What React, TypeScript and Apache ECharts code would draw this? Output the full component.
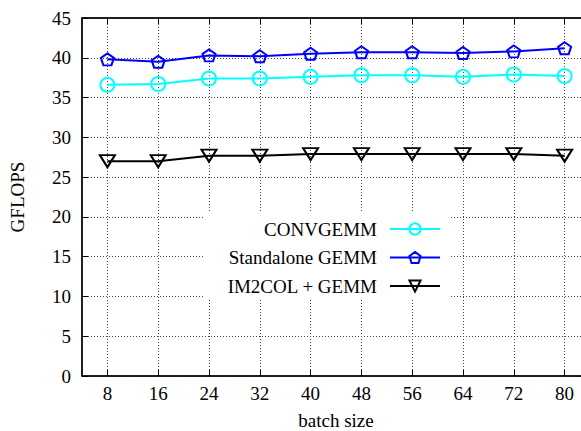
import React, { useEffect, useRef } from "react";
import * as echarts from "echarts";

const batchSizes = [8, 16, 24, 32, 40, 48, 56, 64, 72, 80];
const convgemm = [36.6, 36.7, 37.4, 37.4, 37.6, 37.8, 37.8, 37.6, 37.9, 37.7];
const standaloneGemm = [39.8, 39.5, 40.3, 40.2, 40.5, 40.7, 40.7, 40.6, 40.8, 41.2];
const im2colGemm = [27.0, 27.0, 27.7, 27.7, 27.9, 27.9, 27.9, 27.9, 27.9, 27.7];
const yTicks = { min: 0, max: 45, interval: 5 };

const FONT = "Liberation Serif";
const PENTAGON = "path://M0,-1 L0.951,-0.309 L0.588,0.809 L-0.588,0.809 L-0.951,-0.309 Z";
const TRI_DOWN = "path://M0,0 L10,0 L5,8.66 Z";

export default function App() {
  const ref = useRef<HTMLDivElement>(null);
  useEffect(() => {
    if (!ref.current) return;
    const chart = echarts.init(ref.current, null, { renderer: "svg" });
    const pairs = (vals: number[]) => batchSizes.map((b, i) => [b, vals[i]]);
    const gridLine = { show: true, lineStyle: { color: "#444", type: [1, 2] as any, width: 1 } };
    const mk = (name: string, vals: number[], color: string, symbol: string, size: any) => ({
      name,
      type: "line",
      data: pairs(vals),
      symbol,
      symbolSize: size,
      showSymbol: true,
      lineStyle: { color, width: 2 },
      itemStyle: { color: "transparent", borderColor: color, borderWidth: 2 },
      emphasis: { disabled: true },
      z: 3,
    });
    chart.setOption({
      animation: false,
      grid: {
        left: 82,
        top: 18,
        right: -9,
        bottom: 55,
        outerBoundsMode: "none",
        containLabel: false,
        show: true,
        borderColor: "#000",
        borderWidth: 1,
      },
      xAxis: [
        {
          type: "value",
          min: 4,
          max: 84,
          name: "batch size",
          nameLocation: "middle",
          nameGap: 36,
          nameTextStyle: { fontFamily: FONT, fontSize: 19, color: "#000", lineHeight: 16 },
          axisLine: { show: true, onZero: false, lineStyle: { color: "#000", width: 1.5 } },
          axisTick: { show: true, inside: true, length: 6, customValues: batchSizes, lineStyle: { color: "#000" } },
          axisLabel: { show: true, customValues: batchSizes, fontFamily: FONT, fontSize: 19, color: "#000", margin: 8 },
          splitLine: gridLine,
        },
        {
          type: "value",
          position: "top",
          min: 4,
          max: 84,
          axisLine: { show: true, onZero: false, lineStyle: { color: "#000", width: 1.5 } },
          axisTick: { show: true, inside: true, length: 6, customValues: batchSizes, lineStyle: { color: "#000" } },
          axisLabel: { show: false },
          splitLine: { show: false },
        },
      ],
      yAxis: {
        type: "value",
        min: yTicks.min,
        max: yTicks.max,
        interval: yTicks.interval,
        name: "GFLOPS",
        nameLocation: "middle",
        nameGap: 55,
        nameTextStyle: { fontFamily: FONT, fontSize: 19, color: "#000" },
        axisLine: { show: true, lineStyle: { color: "#000", width: 1.5 } },
        axisTick: { show: true, inside: true, length: 6, lineStyle: { color: "#000" } },
        axisLabel: { fontFamily: FONT, fontSize: 19, color: "#000", margin: 11 },
        splitLine: gridLine,
      },
      legend: {
        data: ["CONVGEMM", "Standalone GEMM", "IM2COL + GEMM"],
        orient: "vertical",
        align: "right",
        right: 131,
        top: 213,
        padding: [6, 9, 4, 24],
        backgroundColor: "#fff",
        itemWidth: 50,
        itemHeight: 14,
        itemGap: 8.5,
        selectedMode: false,
        textStyle: { fontFamily: FONT, fontSize: 19, color: "#000", lineHeight: 20, padding: [0, 8, 0, 0] },
      },
      series: [
        mk("CONVGEMM", convgemm, "#00ffff", "circle", 14),
        mk("Standalone GEMM", standaloneGemm, "#0000ff", PENTAGON, [13, 12]),
        mk("IM2COL + GEMM", im2colGemm, "#000000", TRI_DOWN, [15, 12]),
      ],
    });
    return () => chart.dispose();
  }, []);
  return (
    <div
      ref={ref}
      style={{ position: "fixed", left: 0, top: 0, width: 581, height: 431, background: "#fff" }}
    />
  );
}
